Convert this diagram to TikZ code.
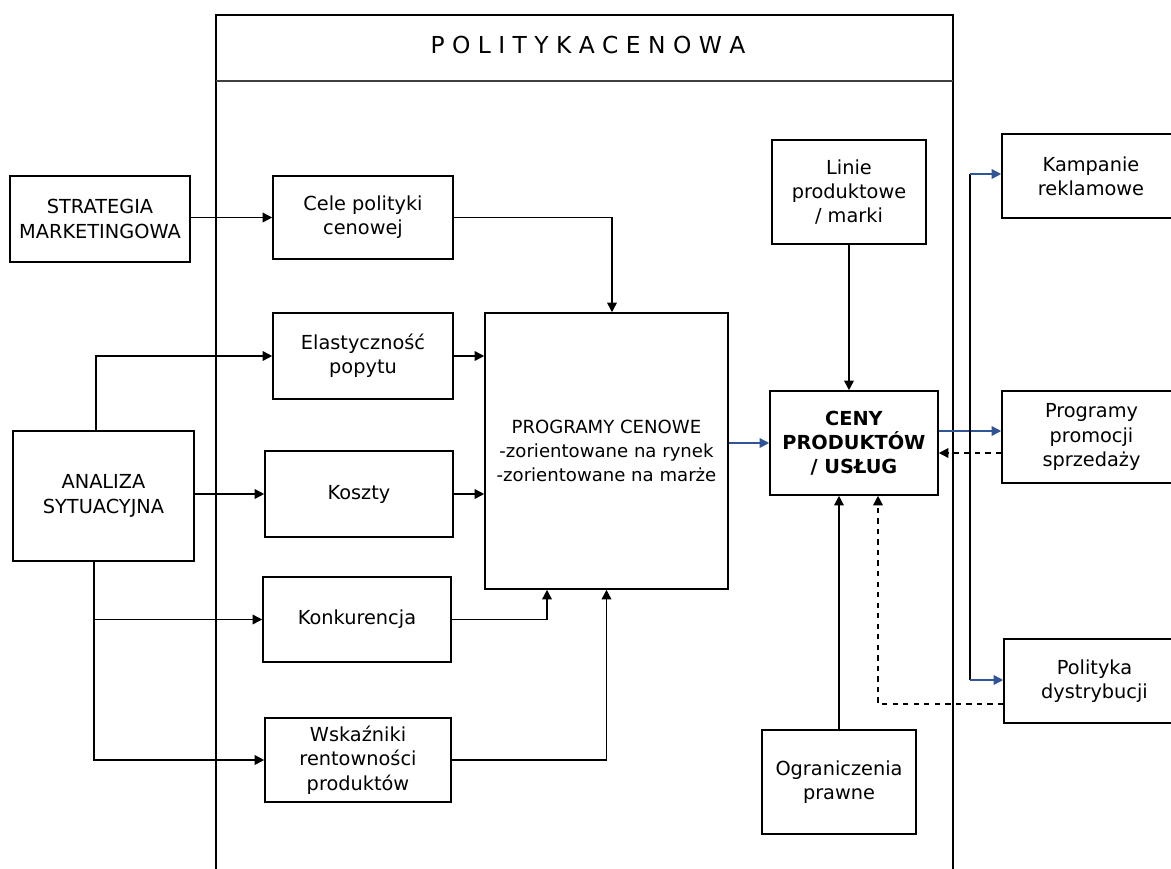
\documentclass[tikz,border=0pt]{standalone}
\usepackage{fontspec}
\setmainfont{DejaVu Sans}
\usetikzlibrary{arrows.meta}
\definecolor{linkblue}{RGB}{47,85,151}
\tikzset{
  box/.style={draw,line width=0.9pt,align=center,inner sep=2pt,
    font=\fontsize{11}{13.8}\selectfont},
  link/.style={line width=0.85pt,->},
  bluelink/.style={link,draw=linkblue},
  backlink/.style={link,dashed}
}

\begin{document}
\begin{tikzpicture}[x=0.02cm,y=-0.02cm,>={Triangle[length=5.5pt,width=5.5pt]}]
      \useasboundingbox (0,0) rectangle (1171,869);
      \clip (0,0) rectangle (1171,869);
      \draw[line width=1.1pt] (216,880) -- (216,15) -- (953,15) -- (953,880);
      \draw[line width=0.6pt,black!75] (216,81) -- (953,81);
      \node[font=\fontsize{13.3}{15}\selectfont] (title) at (588,45) {P O L I T Y K A C E N O W A};
      \node[box,minimum width=3.6cm,minimum height=1.72cm] (strat) at (100,219) {STRATEGIA\\MARKETINGOWA};
      \node[box,minimum width=3.62cm,minimum height=2.6cm] (anal) at (103.5,496) {ANALIZA\\SYTUACYJNA};
      \node[box,minimum width=3.6cm,minimum height=1.66cm] (cele) at (363,217.5) {Cele polityki\\cenowej};
      \node[box,minimum width=3.6cm,minimum height=1.72cm] (elast) at (363,356) {Elastyczność\\popytu};
      \node[box,minimum width=3.76cm,minimum height=1.72cm] (koszty) at (359,494) {Koszty};
      \node[box,minimum width=3.76cm,minimum height=1.7cm] (konk) at (357,619.5) {Konkurencja};
      \node[box,minimum width=3.72cm,minimum height=1.68cm] (wsk) at (358,760) {Wskaźniki\\rentowności\\produktów};
      \node[box,font=\fontsize{10.3}{13.5}\selectfont,minimum width=4.86cm,minimum height=5.52cm] (prog) at (606.5,451) {PROGRAMY CENOWE\\-zorientowane na rynek\\-zorientowane na marże};
      \node[box,minimum width=3.08cm,minimum height=2.08cm] (linie) at (849,192) {Linie\\produktowe\\/ marki};
      \node[box,minimum width=3.36cm,minimum height=2.08cm] (ceny) at (854,443) {\textbf{CENY}\\\textbf{PRODUKTÓW}\\\textbf{/ USŁUG}};
      \node[box,minimum width=3.08cm,minimum height=2.08cm] (ogr) at (839,782) {Ograniczenia\\prawne};
      \node[box,minimum width=3.56cm,minimum height=1.68cm] (kamp) at (1091,176) {Kampanie\\reklamowe};
      \node[box,minimum width=3.58cm,minimum height=1.84cm] (promo) at (1091.5,437) {Programy\\promocji\\sprzedaży};
      \node[box,minimum width=3.62cm,minimum height=1.68cm] (dystr) at (1094.5,681) {Polityka\\dystrybucji};
      \coordinate (asplit) at ([xshift=-0.19cm]anal.south);
      \coordinate (bustop) at (970,174);
      \coordinate (busbot) at (970,680);
      \coordinate (cenyout) at ([yshift=0.24cm]ceny.east);
      \coordinate (cenyin) at ([yshift=-0.2cm]ceny.east);
      \draw[link] (strat.east |- cele.west) -- (cele.west);
      \draw[link] (cele.east) -| ([xshift=0.11cm]prog.north);
      \draw[link] ([xshift=-0.15cm]anal.north) |- (elast.west);
      \draw[link] (anal.east |- koszty.west) -- (koszty.west);
      \draw[link] (asplit) |- (wsk.west);
      \draw[link] (asplit |- konk.west) -- (konk.west);
      \draw[link] (elast.east) -- (elast.east -| prog.west);
      \draw[link] (koszty.east) -- (koszty.east -| prog.west);
      \draw[link] (konk.east) -| ([xshift=-1.19cm]prog.south);
      \draw[link] (wsk.east) -| (prog.south);
      \draw[bluelink] (prog.east |- ceny.west) -- (ceny.west);
      \draw[link] (linie.south) -- (linie.south |- ceny.north);
      \draw[link] (ogr.north) -- (ogr.north |- ceny.south);
      \draw[bluelink] (cenyout) -- (cenyout -| promo.west);
      \draw[backlink] (cenyin -| promo.west) -- (cenyin);
      \draw[line width=0.85pt] (bustop) -- (busbot);
      \draw[bluelink] (bustop) -- (bustop -| kamp.west);
      \draw[bluelink] (busbot) -- (busbot -| dystr.west);
      \draw[backlink] ([yshift=-0.46cm]dystr.west) -| ([xshift=0.48cm]ceny.south);
\end{tikzpicture}
\end{document}
